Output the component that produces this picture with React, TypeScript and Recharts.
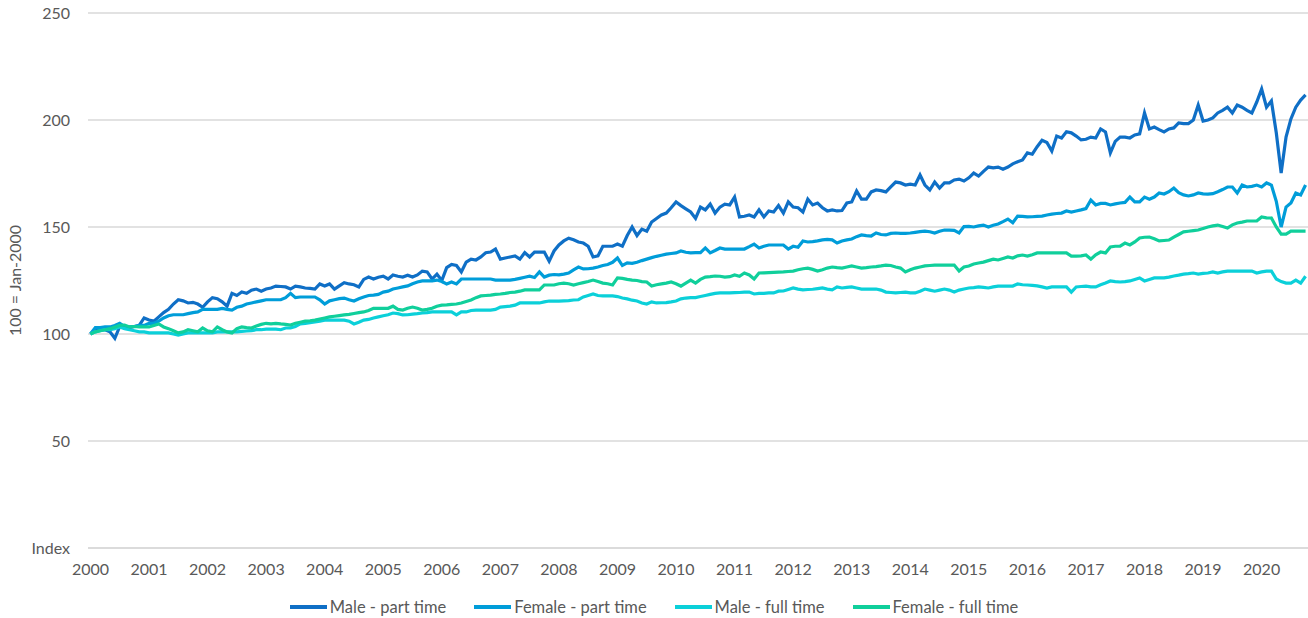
import React from 'react';
import { LineChart, Line, XAxis, YAxis, CartesianGrid, Legend, Label } from 'recharts';

// Monthly index, Jan-2000 = 100, running Jan-2000 .. Oct-2020 (250 months)
const yearLabels = [
  '2000', '2001', '2002', '2003', '2004', '2005', '2006', '2007', '2008', '2009', '2010',
  '2011', '2012', '2013', '2014', '2015', '2016', '2017', '2018', '2019', '2020',
];
const yTicks = [0, 50, 100, 150, 200, 250];

const malePartTime = [
  100, 102, 102, 102, 101, 98, 103.5, 103.5, 103, 103.5, 104,
  107.5, 106.5, 106, 108, 110, 111.5, 114, 116, 115.5, 114.5, 114.8, 114,
  112.5, 115, 117, 116.5, 115, 113, 119, 118, 119.6, 119, 120.5, 121,
  120, 121, 121.5, 122.4, 122.2, 122, 121, 122.4, 122, 121.5, 121.3, 121,
  123.4, 122.4, 123.4, 121, 122.5, 124, 123.4, 123, 122, 125.5, 126.6, 125.7,
  126.5, 127, 125.7, 127.6, 127, 126.6, 127.5, 126.6, 127.6, 129.4, 129, 125.7,
  128, 125, 131, 132.5, 132, 129, 133.6, 135, 134.6, 136, 138, 138.3,
  139.7, 135, 135.5, 136, 136.5, 135, 138, 136, 138.3, 138.3, 138.3, 134,
  138.8, 141.6, 143.5, 144.8, 144, 143, 142.5, 141, 136, 136.5, 141, 141,
  141, 142, 141, 146, 150, 146, 149, 148, 152.3, 154, 155.6, 156.5,
  159, 161.7, 160, 158.5, 157, 154, 159.3, 158, 160.7, 156.5, 159.3,
  160.7, 160.3, 164, 154.7, 155, 155.6, 154.7, 158, 154.7, 157.5, 157, 160,
  156.5, 161.7, 159.3, 159, 157, 163, 160.3, 161.2, 159, 157.5, 158, 157.5,
  157.7, 161.2, 161.7, 166.8, 163, 163, 166.4, 167.3, 167, 166.4, 168.7, 171,
  170.6, 169.6, 170, 169.6, 174.3, 169.6, 167.3, 171, 168.2, 170.6, 170.6, 172,
  172.4, 171.5, 173, 175.2, 173.8, 176, 178, 177.6, 178, 177, 178, 179.5,
  180.5, 181.3, 184.6, 184, 187.5, 190.5, 189.5, 185.5, 192.5, 191.6, 194.5, 194,
  192.5, 190.7, 191, 192, 191.6, 195.8, 194.4, 184.6, 190, 192, 192, 191.6,
  193, 193.5, 203.3, 195.8, 196.7, 195.5, 194.4, 195.8, 196.3, 198.6, 198.3, 198.3,
  200, 207, 199.5, 200, 201, 203.3, 204.5, 206, 203.3, 207, 206, 204.5,
  203.3, 208.4, 214.5, 206, 208.9, 194, 175.2, 192, 200.5, 206, 209.3, 211.7,
];

const femalePartTime = [
  100, 103, 103, 103.3, 103.3, 104, 105, 103.5, 103.3, 103.5, 104,
  104, 105, 105, 106, 107.5, 108.5, 109, 109, 109, 109.5, 110, 110.3,
  111.5, 111.5, 111.5, 111.5, 112, 111.5, 111.2, 112.5, 113, 114, 114.5, 115,
  115.5, 116, 116, 116, 116, 117, 119, 117, 117.3, 117.3, 117.3, 117.3,
  116, 114, 115.5, 116, 116.5, 116.8, 116, 115.4, 116.5, 117.3, 118, 118.2,
  118.5, 119.6, 120, 121, 121.5, 122, 122.5, 123.5, 124.3, 124.8, 124.8, 124.8,
  125.2, 124.5, 123.4, 124.3, 123.4, 125.7, 125.7, 125.7, 125.7, 125.7, 125.7, 125.7,
  125.2, 125.2, 125.2, 125.2, 125.5, 126, 126.5, 127, 126.4, 129, 126.6, 127.5,
  127.8, 127.6, 128, 128.5, 130, 131.3, 130.4, 130.5, 130.8, 131.3, 132, 132.5,
  133.5, 135.5, 132, 133.2, 133, 133.5, 134.3, 135, 135.7, 136.3, 136.8, 137.3,
  137.6, 137.9, 138.8, 138.2, 137.9, 138, 138, 140.2, 137.9, 139, 140.2,
  139.7, 139.7, 139.7, 139.7, 139.7, 140.8, 142, 140.2, 141, 141.6, 141.6, 141.6,
  141.6, 139.7, 141, 140.5, 143.5, 143, 143.2, 143.5, 144, 144.2, 144, 142.5,
  143.5, 144, 144.4, 145.5, 146.3, 146, 145.8, 147.2, 146.5, 146.3, 147, 147.2,
  147, 147, 147.2, 147.5, 147.8, 148.1, 147.8, 147.2, 148, 148.6, 148.5, 148.4,
  147.2, 150.2, 150.3, 150, 150.5, 150.9, 150, 150.8, 151.4, 152.5, 153.7, 152,
  155.1, 155, 154.7, 154.8, 155, 155.1, 155.6, 156, 156.3, 156.5, 157.5, 157,
  157.5, 158, 158.6, 162.6, 160.3, 161, 161, 160.3, 160.8, 161.2, 161.5, 164,
  161.7, 161.7, 164, 163, 164, 165.9, 165.4, 166.5, 168.2, 166, 165, 164.5,
  165, 165.9, 165.5, 165.4, 165.6, 166.5, 167.5, 168.7, 168.7, 165.9, 169.6, 168.7,
  169, 169.6, 168.7, 170.6, 169.6, 162, 150, 159.3, 161.2, 165.9, 165, 169.6,
];

const maleFullTime = [
  100, 101, 101.5, 102, 102, 102.5, 103.3, 102.5, 102, 101.5, 101,
  101, 100.5, 100.5, 100.5, 100.5, 100.5, 100, 99.5, 100, 100.5, 100.5, 100.5,
  100.5, 100.5, 100.5, 101, 101, 101, 101, 101, 101.2, 101.4, 101.6, 102,
  102, 102.3, 102.3, 102.3, 102, 102.8, 102.8, 103.5, 104.7, 105, 105.3, 105.6,
  106, 106.5, 106.5, 106.5, 106.5, 106.5, 106, 104.7, 105.5, 106.5, 106.8, 107.5,
  108, 108.5, 109, 109.8, 109.5, 108.9, 109, 109.3, 109.5, 109.8, 110, 110.3,
  110.3, 110.3, 110.3, 110.3, 108.9, 110.3, 110.3, 111, 111.2, 111.2, 111.2, 111.2,
  111.5, 112.6, 112.8, 113, 113.5, 114.5, 114.5, 114.5, 114.5, 114.5, 115, 115.4,
  115.4, 115.4, 115.5, 115.6, 115.9, 116, 117.3, 118, 118.7, 118, 117.8, 117.8,
  117.8, 117.5, 116.8, 116.4, 115.8, 115.4, 114.5, 114, 115, 114.5, 114.6, 114.7,
  115, 115.4, 116.4, 116.8, 117, 117, 117.5, 118, 118.5, 119, 119.2,
  119.2, 119.2, 119.3, 119.4, 119.6, 119.6, 118.7, 119, 119, 119.2, 119.2, 120,
  120.1, 120.8, 121.5, 121, 120.6, 120.8, 120.9, 121.2, 121.5, 121, 120.6, 122,
  121.5, 121.8, 122, 121.5, 121, 121, 121, 121, 120.5, 119.6, 119.4, 119.2,
  119.4, 119.6, 119.2, 119.2, 120, 121, 120.5, 120, 120.5, 121, 120.5, 119.6,
  120.5, 121, 121.5, 121.7, 122, 121.8, 121.5, 122, 122.4, 122.4, 122.4, 122.4,
  123.4, 123, 122.9, 122.7, 122.5, 122, 121.5, 122, 122, 122, 122, 119.6,
  122, 122.2, 122.4, 122, 122, 123, 123.8, 124.8, 124.5, 124.3, 124.5, 124.8,
  125.5, 126.2, 124.8, 125.5, 126.2, 126.2, 126.2, 126.6, 127.1, 127.5, 128, 128.2,
  128.5, 128, 128.3, 128.5, 129, 128.5, 129, 129.4, 129.4, 129.4, 129.4, 129.4,
  129.4, 128.5, 129, 129.4, 129.4, 125.7, 124.5, 123.8, 123.8, 125.2, 123.8, 127,
];

const femaleFullTime = [
  100, 101, 101.5, 102, 102.5, 103.3, 104, 104.2, 103.3, 103.5, 103.3,
  103.3, 103.3, 104, 104.7, 103.3, 102.5, 101.5, 100.5, 101, 102, 101.5, 101,
  102.8, 101.5, 101, 103.3, 102, 101, 100.5, 102.5, 103.3, 103, 102.8, 103.7,
  104.5, 105, 104.7, 105, 104.7, 104.5, 104.2, 105, 105.5, 106, 106.2, 106.5,
  107, 107.5, 108, 108.3, 108.6, 108.9, 109.2, 109.6, 110, 110.3, 111, 112,
  112, 112, 112, 113, 111.5, 111.2, 112, 112.6, 112, 111.2, 111.5, 112,
  113, 113.5, 113.6, 113.8, 114, 114.5, 115.2, 115.9, 117, 117.8, 118, 118.2,
  118.5, 118.7, 119, 119.4, 119.6, 120, 120.6, 120.6, 120.6, 120.6, 122.9, 122.9,
  122.9, 123.5, 123.8, 123.5, 122.9, 123.5, 124, 124.5, 125.2, 124.5, 123.8, 123.5,
  122.9, 126.2, 126, 125.5, 125.2, 125, 124.5, 124.3, 122.4, 123, 123.4, 123.8,
  124.3, 123.5, 122.4, 123.8, 125.2, 123.8, 125.5, 126.6, 126.8, 127.1, 127,
  126.6, 126.8, 127.6, 127, 128.5, 127.6, 125.7, 128.5, 128.6, 128.7, 128.8, 128.9,
  129, 129.2, 129.4, 130, 130.5, 130.8, 130.2, 129.4, 130, 130.8, 131.3, 131,
  130.8, 131.3, 131.8, 131.3, 130.8, 131, 131.3, 131.5, 131.8, 132.2, 132, 131.3,
  130.8, 129, 130, 130.8, 131.3, 131.8, 132, 132.2, 132.2, 132.2, 132.2, 132.2,
  129.4, 131.3, 131.8, 132.7, 133.2, 133.6, 134.3, 135, 134.6, 135.3, 136, 135.5,
  136.5, 136.9, 136.4, 137, 137.9, 137.9, 137.9, 137.9, 137.9, 137.9, 137.9, 136.4,
  136.4, 136.5, 136.9, 135, 137, 138.3, 137.9, 140.7, 141, 141.1, 142.5, 141.6,
  143, 144.9, 145.2, 145.3, 144.5, 143.5, 143.7, 143.9, 145.3, 146.5, 147.7, 148,
  148.3, 148.6, 149.3, 150, 150.5, 150.9, 150.2, 149.5, 151, 151.9, 152.3, 152.8,
  152.8, 152.8, 154.7, 154.3, 154.2, 150, 146.7, 146.7, 148.1, 148.1, 148.1, 148.1,
];

const series = [
  { key: 'malePartTime', name: 'Male - part time', color: '#0F6FC6' },
  { key: 'femalePartTime', name: 'Female - part time', color: '#009DD9' },
  { key: 'maleFullTime', name: 'Male - full time', color: '#0BD0D9' },
  { key: 'femaleFullTime', name: 'Female - full time', color: '#10CF9B' },
];

const data = malePartTime.map((v, i) => ({
  month: i,
  malePartTime: v,
  femalePartTime: femalePartTime[i],
  maleFullTime: maleFullTime[i],
  femaleFullTime: femaleFullTime[i],
}));

// one label every 12 months, on the January category
const yearTicks = yearLabels.map((_, i) => i * 12);

const FONT = 'Lato, "Noto Sans", sans-serif';
const TEXT = '#595959';
const GRID = '#D9D9D9';

const YTitle = (props: any) => {
  const vb = props.viewBox || { y: 13, height: 535 };
  const cx = 14;
  const cy = vb.y + vb.height / 2;
  return (
    <text
      x={cx}
      y={cy}
      transform={`rotate(-90, ${cx}, ${cy})`}
      textAnchor="middle"
      dominantBaseline="central"
      fill={TEXT}
      fontSize={16}
      fontFamily={FONT}
    >
      100 = Jan-2000
    </text>
  );
};

const LegendContent = () => (
  <div style={{ display: 'flex', justifyContent: 'center', alignItems: 'center', fontFamily: FONT, fontSize: 16.5, color: TEXT }}>
    {series.map((s, i) => (
      <div key={s.key} style={{ display: 'flex', alignItems: 'center', marginRight: i < series.length - 1 ? 28 : 0 }}>
        <svg width={37} height={4} style={{ marginRight: 3 }}>
          <line x1={0} y1={2} x2={37} y2={2} stroke={s.color} strokeWidth={4} />
        </svg>
        <span>{s.name}</span>
      </div>
    ))}
  </div>
);

export default function App() {
  return (
    <div style={{ position: 'absolute', left: 0, top: 0, width: 1308, height: 618, background: '#fff' }}>
      <LineChart width={1308} height={618} data={data} margin={{ top: 13, right: 0, left: 0, bottom: 40 }}>
        <CartesianGrid vertical={false} stroke={GRID} strokeWidth={1.3} />
        <XAxis
          dataKey="month"
          type="number"
          domain={[-0.5, data.length - 0.5]}
          ticks={yearTicks}
          tickFormatter={(v: number) => yearLabels[v / 12]}
          axisLine={{ stroke: GRID, strokeWidth: 1.3 }}
          tickLine={false}
          tickSize={6}
          tickMargin={10}
          tick={{ fill: TEXT, fontSize: 16, fontFamily: FONT }}
          height={30}
        />
        <YAxis
          domain={[0, 250]}
          ticks={yTicks}
          tickFormatter={(v: number) => (v === 0 ? 'Index' : String(v))}
          axisLine={false}
          tickLine={false}
          tickSize={6}
          tickMargin={12}
          tick={{ fill: TEXT, fontSize: 16, fontFamily: FONT }}
          width={88}
        >
          <Label content={<YTitle />} />
        </YAxis>
        <Legend
          verticalAlign="middle"
          layout="horizontal"
          content={<LegendContent />}
          wrapperStyle={{ top: 597, left: 0, width: 1308 }}
        />
        {series.map((s) => (
          <Line
            key={s.key}
            type="linear"
            dataKey={s.key}
            name={s.name}
            stroke={s.color}
            strokeWidth={3.2}
            dot={false}
            isAnimationActive={false}
          />
        ))}
      </LineChart>
    </div>
  );
}
